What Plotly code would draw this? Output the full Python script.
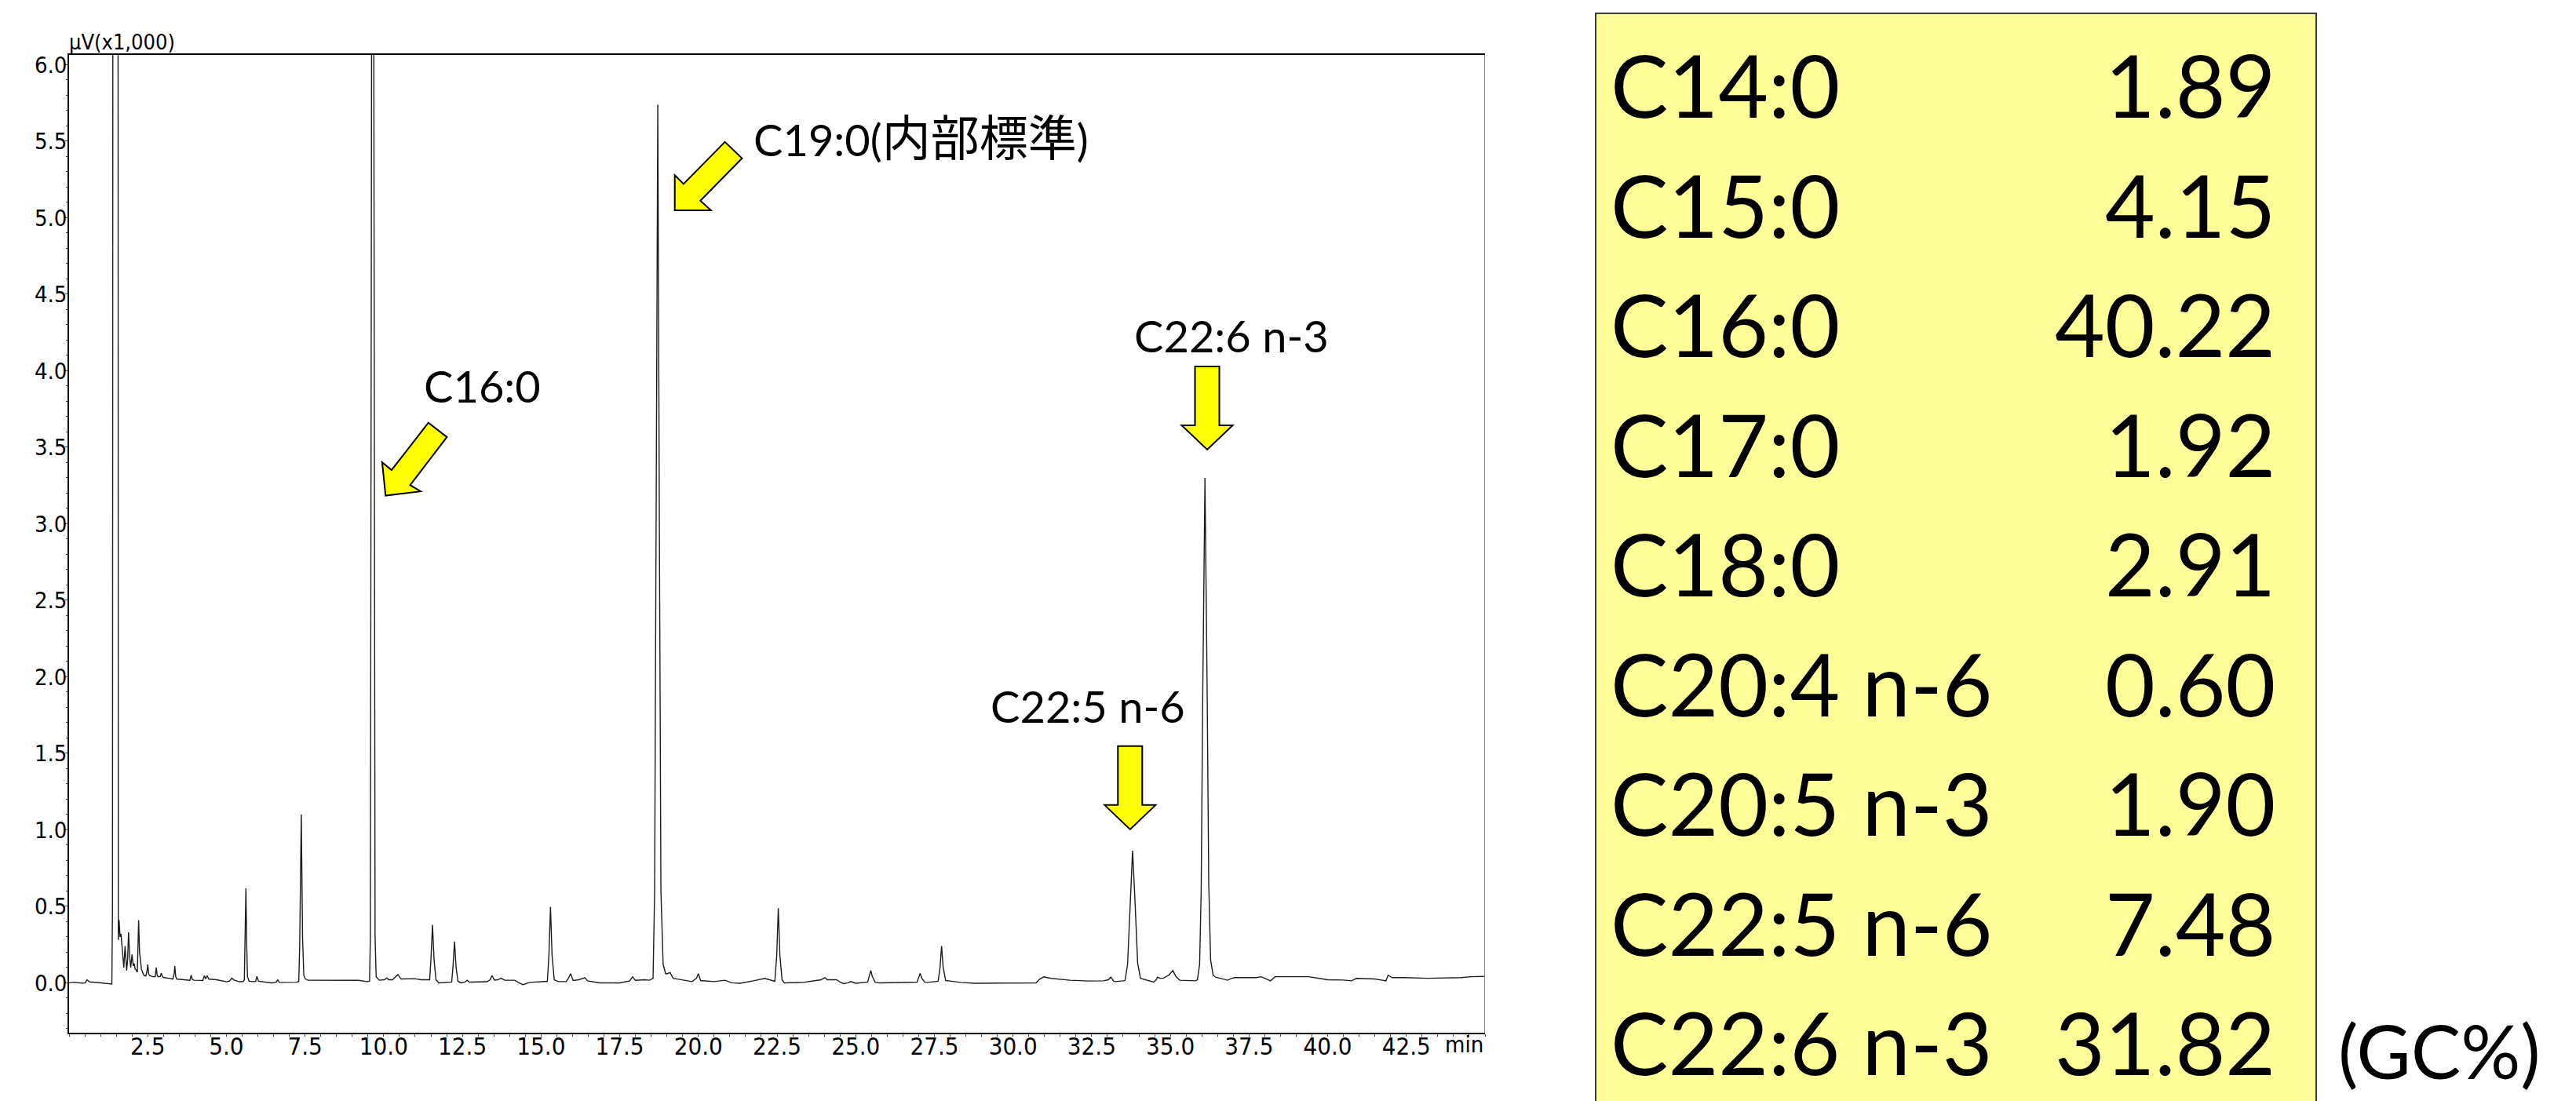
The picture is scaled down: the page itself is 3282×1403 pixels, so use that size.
import plotly.graph_objects as go

W, H = 3282, 1403
PLOT_L, PLOT_R, PLOT_T, PLOT_B = 88, 1892, 70, 1316

# ---- chromatogram (retention time [min], signal [uV x1000])
chromatogram = [
    (0.00, 0.000), (0.15, 0.004), (0.40, -0.002), (0.52, 0.000), (0.57, 0.020), (0.65, 0.006),
    (0.90, 0.002), (1.20, -0.004), (1.36, -0.008),
    (1.38, 0.5), (1.395, 8.0), (1.47, 80.0), (1.545, 8.0), (1.555, 0.5), (1.565, 0.28),
    (1.59, 0.41), (1.62, 0.30), (1.65, 0.32), (1.70, 0.18), (1.74, 0.10), (1.78, 0.24), (1.81, 0.12),
    (1.83, 0.08), (1.86, 0.15), (1.89, 0.33), (1.93, 0.16), (1.96, 0.10), (2.00, 0.185), (2.04, 0.11),
    (2.07, 0.126), (2.10, 0.09), (2.13, 0.084), (2.17, 0.07), (2.21, 0.41), (2.24, 0.20), (2.27, 0.148),
    (2.30, 0.09), (2.34, 0.067), (2.39, 0.047), (2.44, 0.045), (2.48, 0.08), (2.50, 0.12), (2.53, 0.06),
    (2.56, 0.047), (2.67, 0.040), (2.74, 0.040), (2.77, 0.10), (2.80, 0.05), (2.83, 0.040), (2.90, 0.042),
    (2.93, 0.064), (2.97, 0.040), (3.02, 0.034), (3.18, 0.030), (3.30, 0.025), (3.34, 0.06), (3.36, 0.11),
    (3.39, 0.04), (3.42, 0.025), (3.66, 0.020), (3.84, 0.016), (3.88, 0.05), (3.92, 0.02), (3.98, 0.017),
    (4.25, 0.015), (4.30, 0.047), (4.34, 0.025), (4.39, 0.047), (4.44, 0.024), (4.49, 0.024), (4.69, 0.020),
    (5.01, 0.007), (5.10, 0.012), (5.17, 0.030), (5.25, 0.018), (5.41, 0.007), (5.54, 0.008),
    (5.57, 0.02), (5.595, 0.25), (5.62, 0.618), (5.645, 0.25), (5.67, 0.04), (5.72, 0.012),
    (5.81, 0.008), (5.93, 0.010), (5.97, 0.042), (6.02, 0.010), (6.44, 0.000), (6.58, 0.004), (6.63, 0.020),
    (6.68, 0.003), (7.10, 0.002), (7.24, 0.004),
    (7.30, 0.01), (7.33, 0.25), (7.38, 1.10), (7.42, 0.30), (7.46, 0.05), (7.51, 0.025), (7.60, 0.017),
    (8.20, 0.016), (8.80, 0.018), (9.20, 0.016), (9.47, 0.008),
    (9.55, 0.01), (9.575, 0.3), (9.65, 11.3), (9.725, 0.3), (9.76, 0.04), (9.86, 0.017),
    (10.02, 0.020), (10.10, 0.032), (10.16, 0.020), (10.28, 0.020), (10.45, 0.054), (10.55, 0.025),
    (10.98, 0.027), (11.20, 0.020), (11.42, 0.020),
    (11.46, 0.02), (11.50, 0.15), (11.55, 0.379), (11.60, 0.15), (11.66, 0.02), (11.75, 0.000), (12.01, 0.003),
    (12.16, 0.005), (12.20, 0.10), (12.25, 0.27), (12.30, 0.10), (12.36, 0.010), (12.45, 0.000),
    (12.58, 0.005), (12.65, 0.017), (12.72, 0.005), (13.28, 0.007),
    (13.38, 0.020), (13.44, 0.047), (13.52, 0.018), (13.62, 0.020), (13.73, 0.030), (13.85, 0.017),
    (14.16, 0.017), (14.30, 0.000), (14.43, -0.012), (14.64, 0.003), (15.11, 0.008),
    (15.20, 0.01), (15.25, 0.18), (15.30, 0.497), (15.35, 0.18), (15.42, 0.02), (15.55, 0.008),
    (15.80, 0.008), (15.87, 0.030), (15.94, 0.060), (16.02, 0.015), (16.20, 0.020), (16.39, 0.034),
    (16.48, 0.013), (16.86, 0.000), (17.50, 0.000), (17.82, 0.013), (17.91, 0.040), (18.00, 0.016),
    (18.29, 0.020), (18.45, 0.017),
    (18.56, 0.03), (18.61, 0.6), (18.66, 3.0), (18.71, 5.74), (18.76, 3.0), (18.81, 0.6), (18.88, 0.12),
    (18.96, 0.06), (19.01, 0.060), (19.10, 0.067), (19.20, 0.030), (19.41, 0.022), (19.80, 0.008),
    (19.94, 0.030), (20.00, 0.060), (20.07, 0.015), (20.33, 0.013), (20.50, 0.008), (20.84, 0.017),
    (21.06, 0.000), (21.32, -0.003), (21.64, 0.008), (21.75, 0.013), (22.11, 0.029), (22.35, 0.017),
    (22.43, 0.01), (22.49, 0.18), (22.54, 0.488), (22.59, 0.18), (22.66, 0.02), (22.73, 0.000),
    (23.33, 0.003), (23.90, 0.020), (24.02, 0.034), (24.10, 0.020), (24.17, 0.020), (24.39, 0.020),
    (24.50, 0.005), (24.62, -0.005), (24.75, 0.000), (24.85, 0.008), (25.00, -0.003), (25.30, 0.003),
    (25.38, 0.005), (25.44, 0.05), (25.48, 0.081), (25.53, 0.04), (25.62, 0.003), (25.76, 0.000),
    (26.82, 0.003), (26.95, 0.005), (27.01, 0.04), (27.05, 0.062), (27.10, 0.03), (27.20, 0.004),
    (27.27, 0.003), (27.55, 0.008),
    (27.62, 0.01), (27.68, 0.10), (27.73, 0.24), (27.78, 0.10), (27.86, 0.015), (27.95, 0.013),
    (28.33, 0.003), (28.79, -0.003), (29.85, -0.003), (30.73, 0.000),
    (30.85, 0.025), (30.98, 0.039), (31.21, 0.029), (31.82, 0.017), (32.42, 0.012), (32.88, 0.013),
    (33.03, 0.020), (33.11, 0.037), (33.20, 0.010), (33.26, 0.008), (33.50, 0.013),
    (33.56, 0.015), (33.64, 0.12), (33.72, 0.52), (33.80, 0.864), (33.88, 0.52), (33.96, 0.13),
    (34.05, 0.03), (34.24, 0.017), (34.47, 0.005), (34.55, 0.020), (34.59, 0.037), (34.68, 0.030),
    (34.77, 0.030), (34.95, 0.050), (35.08, 0.080), (35.18, 0.040), (35.30, 0.017), (35.80, 0.013),
    (35.86, 0.02), (35.93, 0.12), (35.98, 0.6), (36.03, 1.9), (36.10, 3.30), (36.17, 1.9), (36.22, 0.65),
    (36.28, 0.15), (36.36, 0.05), (36.44, 0.037),
    (36.82, 0.017), (36.95, 0.030), (37.05, 0.034), (37.73, 0.034), (37.88, 0.040), (38.00, 0.030),
    (38.18, 0.013), (38.33, 0.040), (39.39, 0.040), (39.85, 0.025), (40.00, 0.020), (40.50, 0.018),
    (40.76, 0.013), (40.91, 0.029), (41.50, 0.025), (41.74, 0.017), (41.85, 0.013), (41.92, 0.050),
    (42.05, 0.034), (42.42, 0.034), (43.18, 0.030), (44.24, 0.034), (44.55, 0.040), (44.97, 0.042),
]
time_min = [p[0] for p in chromatogram]
signal_uv_k = [p[1] for p in chromatogram]

x_tick_values = [2.5, 5.0, 7.5, 10.0, 12.5, 15.0, 17.5, 20.0, 22.5, 25.0, 27.5, 30.0, 32.5, 35.0, 37.5, 40.0, 42.5]
x_tick_labels = ["2.5", "5.0", "7.5", "10.0", "12.5", "15.0", "17.5", "20.0", "22.5", "25.0", "27.5",
                 "30.0", "32.5", "35.0", "37.5", "40.0", "42.5"]
y_tick_values = [0.0, 0.5, 1.0, 1.5, 2.0, 2.5, 3.0, 3.5, 4.0, 4.5, 5.0, 5.5, 6.0]
y_tick_labels = ["0.0", "0.5", "1.0", "1.5", "2.0", "2.5", "3.0", "3.5", "4.0", "4.5", "5.0", "5.5", "6.0"]
X_RANGE = [0, 45]
Y_RANGE = [-0.326, 6.064]

# ---- composition table
fatty_acids = ["C14:0", "C15:0", "C16:0", "C17:0", "C18:0", "C20:4 n-6", "C20:5 n-3", "C22:5 n-6", "C22:6 n-3"]
gc_percent = [1.89, 4.15, 40.22, 1.92, 2.91, 0.60, 1.90, 7.48, 31.82]

# ---- peak call-outs: label text, label position (data), arrow tip (data), arrow kind
peak_label_text = ["C16:0", "C19:0(<span style=\"font-family:'Noto Sans CJK JP'; font-size:62px\">内部標準</span>)",
                   "C22:5 n-6", "C22:6 n-3"]
peak_label_x = [11.22, 21.70, 32.39, 36.94]
peak_label_y = [3.90, 5.54, 1.808, 4.231]
peak_label_anchor = ["left", "left", "center", "center"]
arrow_tip_x = [10.06, 19.25, 33.72, 36.17]
arrow_tip_y = [3.184, 5.049, 1.003, 3.485]
arrow_kind = ["diag_c16", "diag_c19", "down", "down"]

NARROW = "'Liberation Sans Narrow', 'Arial Narrow', 'DejaVu Sans Condensed', 'Liberation Sans', sans-serif"
LATIN = "Lato, 'Noto Sans CJK JP', sans-serif"

ARROW_PATHS = {  # pixel offsets from the tip (x right, y up)
    "diag_c16": [(0, 0), (-4.4, 42.4), (7.6, 32.6), (54.5, 92.9), (78.1, 74.6), (31.3, 13.4), (44.7, 5.4)],
    "diag_c19": [(0, 0), (0, 44.7), (11.2, 33.5), (63.9, 87.1), (85.7, 66.1), (32.6, 12.1), (46.0, 0)],
    "down": [(0, 0), (-32.5, 31), (-15.5, 31), (-15.5, 106), (15.5, 106), (15.5, 31), (32.5, 31)],
}


def path_of(pts):
    return "M " + " L ".join(f"{x},{y}" for x, y in pts) + " Z"


fig = go.Figure(go.Scatter(x=time_min, y=signal_uv_k, mode="lines",
                           line=dict(color="#1c1c1c", width=1.4), hoverinfo="skip"))

shapes = []
shapes.append(dict(type="rect", xref="paper", yref="paper", x0=2033 / W, x1=2951 / W,
                   y0=-0.1, y1=1 - 17 / H, fillcolor="#FFFF99", line=dict(color="#3a3a3a", width=2),
                   layer="below"))
shapes.append(dict(type="line", xref="x", yref="y", x0=X_RANGE[1], x1=X_RANGE[1], y0=Y_RANGE[0], y1=Y_RANGE[1],
                   line=dict(color="#8a8a8a", width=2)))
for tx, ty, kind in zip(arrow_tip_x, arrow_tip_y, arrow_kind):
    shapes.append(dict(type="path", xref="x", yref="y", xsizemode="pixel", ysizemode="pixel",
                       xanchor=tx, yanchor=ty, path=path_of(ARROW_PATHS[kind]),
                       fillcolor="#FFFF00", line=dict(color="black", width=2), layer="above"))

annotations = []
for txt, lx, ly, anc in zip(peak_label_text, peak_label_x, peak_label_y, peak_label_anchor):
    annotations.append(dict(text=txt, x=lx, y=ly, xref="x", yref="y", xanchor=anc, yanchor="middle",
                            showarrow=False, font=dict(family=LATIN, size=56, color="black")))

ROW0, ROW_STEP = 107, 152.5
for i, (name, val) in enumerate(zip(fatty_acids, gc_percent)):
    yc = 1 - (ROW0 + i * ROW_STEP) / H
    annotations.append(dict(text=name, x=2050 / W, y=yc, xref="paper", yref="paper", xanchor="left",
                            yanchor="middle", showarrow=False, font=dict(family=LATIN, size=110, color="black")))
    annotations.append(dict(text=f"{val:.2f}", x=2901 / W, y=yc, xref="paper", yref="paper", xanchor="right",
                            yanchor="middle", showarrow=False, font=dict(family=LATIN, size=110, color="black")))

annotations.append(dict(text="(GC%)", x=2977 / W, y=1 - 1338 / H, xref="paper", yref="paper", xanchor="left",
                        yanchor="middle", showarrow=False, font=dict(family=LATIN, size=95, color="black")))
annotations.append(dict(text="μV(x1,000)", x=86 / W, y=1 - 71 / H, xref="paper", yref="paper", xanchor="left",
                        yanchor="bottom", showarrow=False, font=dict(family=NARROW, size=27, color="black")))
annotations.append(dict(text="min", x=X_RANGE[1], y=1 - 1331 / H, xref="x", yref="paper", xanchor="right",
                        yanchor="middle", showarrow=False, font=dict(family=NARROW, size=29, color="black")))

fig.update_layout(
    width=W, height=H, margin=dict(l=0, r=0, t=0, b=0, autoexpand=False),
    paper_bgcolor="white", plot_bgcolor="white", showlegend=False,
    shapes=shapes, annotations=annotations,
    xaxis=dict(domain=[PLOT_L / W, PLOT_R / W], range=X_RANGE, showgrid=False, zeroline=False,
               showline=True, linecolor="black", linewidth=2, mirror=True,
               ticks="outside", ticklen=3, tickwidth=1, tickcolor="#444",
               tickmode="array", tickvals=x_tick_values, ticktext=x_tick_labels,
               tickfont=dict(family=NARROW, size=31, color="black"), ticklabelstandoff=-14,
               minor=dict(tickmode="linear", tick0=0, dtick=0.5, ticks="outside", ticklen=3,
                          tickcolor="#444", tickwidth=1),
               fixedrange=True),
    yaxis=dict(domain=[1 - PLOT_B / H, 1 - PLOT_T / H], range=Y_RANGE, showgrid=False, zeroline=False,
               showline=True, linecolor="black", linewidth=1.5,
               ticks="outside", ticklen=3, tickwidth=1, tickcolor="#444",
               tickmode="array", tickvals=y_tick_values, ticktext=y_tick_labels,
               tickfont=dict(family=NARROW, size=29, color="black"), ticklabelstandoff=-8,
               minor=dict(tickmode="linear", tick0=0, dtick=0.1, ticks="outside", ticklen=2,
                          tickcolor="#444", tickwidth=1),
               fixedrange=True),
)

fig.write_html("out.html", config={"displayModeBar": False},
               post_script="document.body.style.margin='0px'; document.body.style.overflow='hidden';")
